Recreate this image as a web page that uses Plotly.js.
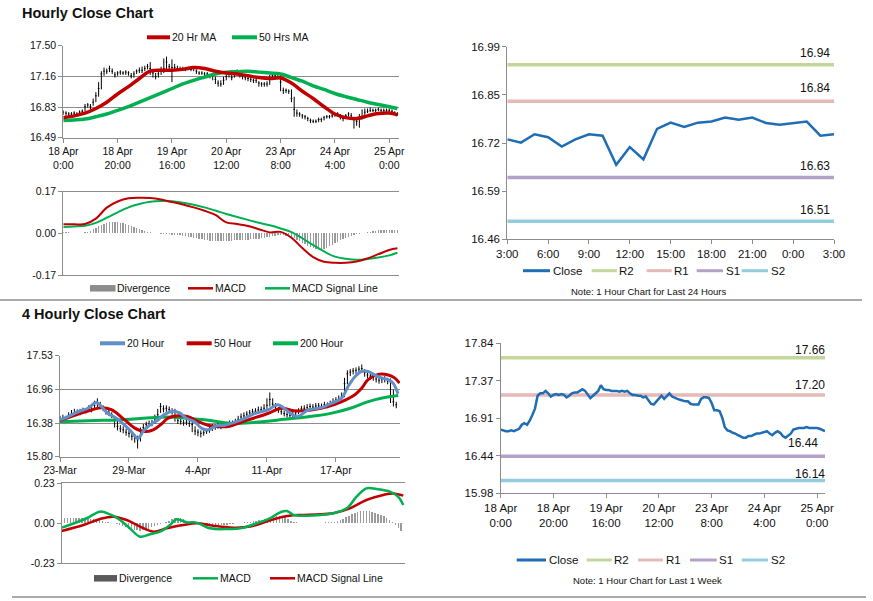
<!DOCTYPE html>
<html><head><meta charset="utf-8">
<script src="https://cdn.plot.ly/plotly-3.0.1.min.js"></script>
<style>html,body{margin:0;padding:0;background:#fff}#chart{width:873px;height:601px}</style>
</head><body><div id="chart"></div>
<script>
// ================= DATA =================
// --- Hourly chart (last week, 1-hour bars), index 0 = 18 Apr 0:00 ---
const hourlyClose = [16.77,16.76,16.75,16.75,16.76,16.75,16.77,16.78,16.83,16.85,
16.83,16.88,16.95,17.03,17.19,17.22,17.22,17.25,17.22,17.18,
17.20,17.21,17.20,17.21,17.20,17.17,17.19,17.22,17.23,17.23,
17.25,17.27,17.25,17.20,17.16,17.19,17.22,17.25,17.32,17.27,
17.26,17.26,17.25,17.25,17.25,17.24,17.25,17.24,17.25,17.22,
17.20,17.20,17.19,17.19,17.17,17.18,17.13,17.09,17.08,17.12,
17.16,17.19,17.15,17.19,17.22,17.18,17.16,17.15,17.14,17.13,
17.12,17.12,17.09,17.08,17.08,17.08,17.15,17.17,17.17,17.16,
17.10,17.01,17.01,17.00,16.92,16.80,16.76,16.75,16.73,16.72,
16.70,16.68,16.67,16.67,16.69,16.69,16.71,16.72,16.72,16.73,
16.74,16.75,16.72,16.70,16.73,16.75,16.73,16.69,16.67,16.70,
16.72,16.77,16.78,16.79,16.79,16.79,16.80,16.79,16.79,16.79,
16.79,16.78,16.76,16.75];
const hourlyHigh = [16.79,16.78,16.77,16.77,16.78,16.77,16.79,16.80,16.86,16.87,
16.86,16.92,16.99,17.10,17.22,17.26,17.25,17.28,17.25,17.21,
17.22,17.23,17.22,17.23,17.22,17.20,17.22,17.24,17.26,17.27,
17.28,17.30,17.32,17.23,17.20,17.22,17.27,17.36,17.38,17.30,
17.35,17.30,17.28,17.27,17.27,17.26,17.27,17.26,17.27,17.24,
17.22,17.22,17.21,17.21,17.19,17.20,17.16,17.12,17.12,17.16,
17.19,17.22,17.19,17.22,17.24,17.21,17.18,17.17,17.16,17.15,
17.14,17.14,17.11,17.10,17.10,17.11,17.18,17.20,17.19,17.18,
17.18,17.04,17.03,17.02,17.02,16.94,16.80,16.77,16.75,16.74,
16.72,16.70,16.69,16.69,16.71,16.71,16.73,16.74,16.74,16.75,
16.76,16.77,16.75,16.73,16.75,16.77,16.76,16.72,16.70,16.75,
16.80,16.81,16.81,16.82,16.81,16.81,16.82,16.81,16.81,16.81,
16.81,16.80,16.78,16.77];
const hourlyLow = [16.74,16.73,16.73,16.73,16.73,16.73,16.74,16.76,16.78,16.82,
16.80,16.84,16.88,16.94,17.02,17.17,17.19,17.21,17.19,17.15,
17.17,17.18,17.18,17.18,17.17,17.14,17.15,17.19,17.20,17.20,
17.22,17.24,17.18,17.15,17.13,17.15,17.18,17.20,17.24,17.22,
17.10,17.23,17.23,17.23,17.23,17.22,17.23,17.22,17.22,17.19,
17.18,17.18,17.17,17.16,17.14,17.12,17.08,17.05,17.05,17.07,
17.12,17.15,17.12,17.15,17.18,17.15,17.13,17.12,17.11,17.10,
17.09,17.09,17.05,17.05,17.05,17.05,17.07,17.14,17.14,17.13,
17.00,16.97,16.98,16.97,16.88,16.72,16.72,16.72,16.70,16.69,
16.67,16.65,16.65,16.65,16.66,16.66,16.68,16.70,16.70,16.71,
16.72,16.72,16.69,16.67,16.70,16.72,16.70,16.59,16.62,16.60,
16.69,16.74,16.76,16.77,16.77,16.77,16.78,16.77,16.77,16.77,
16.77,16.76,16.74,16.73];
const hourlyMaX = [0,4,8,12,16,20,24,28,32,36,40,44,48,52,56,60,64,68,72,76,80,84,88,92,96,100,104,108,112,116,120,123];
const hourlyMa20 = [16.71,16.73,16.76,16.81,16.88,16.97,17.05,17.14,17.22,17.23,17.23,17.24,17.26,17.25,17.22,17.20,17.19,17.17,17.15,17.14,17.145,17.09,17.00,16.92,16.83,16.75,16.71,16.70,16.73,16.755,16.76,16.74];
const hourlyMa50 = [16.68,16.685,16.695,16.72,16.75,16.79,16.83,16.88,16.93,16.98,17.03,17.08,17.12,17.155,17.19,17.21,17.215,17.22,17.21,17.20,17.19,17.15,17.11,17.06,17.02,16.975,16.94,16.91,16.88,16.855,16.83,16.81];
const hourlyMacd = [0.037,0.037,0.038,0.06,0.105,0.13,0.143,0.145,0.144,0.138,0.128,0.118,0.106,0.092,0.075,0.045,0.038,0.03,0.017,0.004,0.006,-0.018,-0.06,-0.097,-0.116,-0.12,-0.12,-0.115,-0.102,-0.085,-0.068,-0.061];
const hourlySignal = [0.026,0.028,0.031,0.043,0.064,0.086,0.106,0.12,0.129,0.132,0.131,0.125,0.117,0.106,0.093,0.079,0.067,0.055,0.043,0.033,0.02,0.005,-0.02,-0.048,-0.074,-0.095,-0.104,-0.108,-0.105,-0.099,-0.09,-0.079];
const hourlyDivergence = [0.005,0.005,0.004,0.003,0.002,0.001,0.001,0.002,0.004,0.006,0.01,
0.016,0.022,0.028,0.034,0.039,0.043,0.046,0.047,
0.047,0.046,0.044,0.041,0.037,0.033,0.029,
0.025,0.021,0.017,0.013,0.01,0.007,0.004,0.002,
0.001,0.0,-0.001,-0.002,-0.003,
-0.004,-0.005,-0.006,-0.007,-0.008,-0.01,-0.012,-0.014,-0.016,-0.018,-0.02,-0.022,
-0.024,-0.026,-0.028,-0.03,-0.031,-0.032,-0.033,-0.033,-0.033,-0.032,-0.031,-0.03,
-0.029,-0.028,-0.028,-0.027,-0.027,-0.026,-0.025,-0.024,-0.023,-0.022,-0.02,-0.018,-0.016,
-0.014,-0.012,-0.01,-0.008,-0.007,-0.008,-0.01,-0.012,-0.015,
-0.02,-0.026,-0.032,-0.038,-0.044,-0.05,-0.055,-0.059,-0.062,-0.064,
-0.064,-0.062,-0.058,-0.053,-0.047,-0.041,-0.035,-0.029,-0.023,-0.018,-0.013,-0.009,-0.006,-0.003,-0.001,
0.001,0.003,0.005,0.007,0.009,0.011,0.012,0.013,0.013,0.013,0.013,0.013,0.013,0.013];
const hourlyTickPos = [0,20,40,60,80,100,120];
const hourlyTickText = ['18 Apr<br>0:00','18 Apr<br>20:00','19 Apr<br>16:00','20 Apr<br>12:00','23 Apr<br>8:00','24 Apr<br>4:00','25 Apr<br>0:00'];
const hourlyYTicks = [16.49,16.8267,17.1633,17.50];
const hourlyYText = ['16.49','16.83','17.16','17.50'];
const macdYTicks = [-0.17,0,0.17];
const macdYText = ['-0.17','0.00','0.17'];

// --- Last 24 hours (1-hour), index 0 = 3:00 ---
const dayClose = [16.735,16.726,16.749,16.741,16.715,16.735,16.749,16.745,16.665,16.714,16.680,16.764,16.781,16.769,16.781,16.784,16.795,16.789,16.795,16.780,16.775,16.780,16.784,16.745,16.749];
const dayTickPos = [0,3,6,9,12,15,18,21,24];
const dayTickText = ['3:00','6:00','9:00','12:00','15:00','18:00','21:00','0:00','3:00'];
const dayYTicks = [16.46,16.5925,16.725,16.8575,16.99];
const dayYText = ['16.46','16.59','16.72','16.85','16.99'];
const levelNames = ['R2','R1','S1','S2'];
const dayLevels = [16.94,16.84,16.63,16.51];
const weekLevels = [17.66,17.20,16.44,16.14];
const weekYTicks = [15.98,16.445,16.91,17.375,17.84];
const weekYText = ['15.98','16.44','16.91','17.37','17.84'];

// --- 4 Hourly chart, index 0 = 23 Mar ---
const fourClose = [16.45,16.47,16.46,16.51,16.53,16.55,16.57,16.56,16.60,16.58,
16.63,16.61,16.68,16.72,16.69,16.63,16.57,16.55,16.52,16.45,
16.32,16.28,16.26,16.22,16.20,16.15,16.12,16.09,16.23,16.30,
16.35,16.36,16.37,16.45,16.52,16.66,16.62,16.63,16.61,16.58,
16.57,16.42,16.40,16.38,16.39,16.37,16.35,16.24,16.22,16.20,
16.21,16.24,16.26,16.29,16.31,16.33,16.32,16.34,16.35,16.36,
16.37,16.40,16.44,16.48,16.50,16.53,16.55,16.57,16.58,16.60,
16.61,16.63,16.68,16.78,16.70,16.66,16.60,16.57,16.54,16.52,
16.51,16.52,16.55,16.58,16.62,16.63,16.64,16.66,16.65,16.67,
16.67,16.66,16.69,16.68,16.70,16.74,16.77,16.79,16.83,17.05,
17.22,17.25,17.27,17.28,17.30,17.31,17.24,17.20,17.18,17.16,
17.13,17.11,17.12,17.13,17.10,17.08,16.74,16.69];
const fourHigh = [16.50,16.52,16.50,16.56,16.60,16.62,16.61,16.62,16.64,16.63,
16.68,16.66,16.76,16.80,16.74,16.68,16.62,16.60,16.56,16.50,
16.42,16.34,16.32,16.28,16.26,16.21,16.18,16.16,16.30,16.36,
16.40,16.42,16.43,16.52,16.62,16.72,16.68,16.68,16.66,16.63,
16.62,16.50,16.45,16.43,16.44,16.42,16.40,16.32,16.27,16.25,
16.26,16.28,16.31,16.36,16.36,16.38,16.37,16.40,16.40,16.42,
16.42,16.45,16.50,16.54,16.56,16.58,16.60,16.62,16.63,16.66,
16.66,16.70,16.80,16.90,16.80,16.72,16.65,16.62,16.59,16.57,
16.56,16.57,16.60,16.63,16.67,16.68,16.70,16.71,16.70,16.72,
16.72,16.71,16.74,16.73,16.76,16.80,16.82,16.85,16.90,17.15,
17.28,17.30,17.32,17.33,17.35,17.38,17.30,17.26,17.23,17.22,
17.19,17.16,17.17,17.18,17.15,17.14,16.95,16.74];
const fourLow = [16.41,16.43,16.42,16.46,16.48,16.50,16.52,16.51,16.55,16.54,
16.58,16.56,16.62,16.65,16.62,16.58,16.52,16.50,16.46,16.30,
16.25,16.22,16.20,16.16,16.13,16.08,16.04,15.94,16.06,16.24,
16.30,16.31,16.32,16.36,16.44,16.55,16.56,16.57,16.55,16.52,
16.40,16.36,16.35,16.33,16.34,16.31,16.22,16.17,16.15,16.13,
16.16,16.19,16.21,16.24,16.26,16.28,16.27,16.29,16.30,16.31,
16.32,16.35,16.39,16.43,16.45,16.48,16.50,16.52,16.53,16.55,
16.56,16.58,16.62,16.66,16.64,16.60,16.55,16.52,16.49,16.47,
16.46,16.47,16.50,16.53,16.57,16.58,16.59,16.61,16.60,16.62,
16.62,16.61,16.64,16.63,16.65,16.69,16.72,16.74,16.78,16.82,
17.04,17.18,17.21,17.22,17.24,17.25,17.17,17.14,17.12,17.10,
17.07,17.05,17.06,17.07,17.04,16.72,16.66,16.63];
const four20X = [0,2.8,6.3,9.7,12.6,14.4,16.7,19.6,22.5,24.8,27.1,28.9,31.2,34.1,36.4,39.3,41.6,43.9,46.8,49.2,51.5,54.4,57.3,63.1,67.7,72.3,75.8,78.7,81.6,83.3,86.3,90.9,94.4,97.9,100.2,102.6,104.9,107.2,109.5,111.8,114.2,115.9,117.6];
const four20 = [16.43,16.485,16.57,16.63,16.73,16.66,16.54,16.46,16.34,16.23,16.115,16.23,16.34,16.43,16.525,16.58,16.55,16.46,16.40,16.29,16.26,16.33,16.34,16.43,16.54,16.60,16.69,16.60,16.50,16.50,16.60,16.64,16.715,16.80,17.0,17.17,17.26,17.26,17.20,17.15,17.12,17.06,16.88];
const four50X = [0,5.1,10.9,14.4,17.9,22.5,26.0,29.5,32.4,35.3,37.6,41.1,44.6,48.1,51.5,56.1,58.4,65.4,72.3,77.0,81.6,87.4,93.2,97.9,102.6,104.9,107.2,110.7,114.2,116.4,118.1];
const four50 = [16.42,16.51,16.60,16.64,16.605,16.43,16.29,16.23,16.26,16.36,16.46,16.50,16.485,16.40,16.34,16.315,16.315,16.43,16.54,16.63,16.585,16.60,16.66,16.74,16.86,16.97,17.12,17.21,17.20,17.15,17.06];
const four200X = [0,12,20,37,44,51,60,68,78,89,95,101,107,112.5,117.7];
const four200 = [16.40,16.42,16.43,16.48,16.46,16.43,16.37,16.39,16.44,16.50,16.55,16.63,16.74,16.81,16.85];
const fourMacdX = [0,5.2,8.6,13.2,16.7,20.1,23.5,27.0,30.4,33.9,37.3,39.6,43.1,46.5,51.1,56.9,62.6,67.2,71.8,75.3,77.6,79.9,84.5,89.1,93.6,98.2,101.6,105.0,108.5,113.1,115.9,117.7];
const fourMacd = [-0.025,0.006,0.029,0.067,0.051,0.019,-0.029,-0.077,-0.063,-0.048,-0.01,0.023,0.006,0.004,-0.029,-0.033,-0.025,0,0.029,0.063,0.071,0.048,0.044,0.048,0.058,0.086,0.153,0.201,0.197,0.182,0.153,0.105];
const fourSignalX = [0,7.5,13.2,17.8,22.4,27,31.6,36.2,41.9,46.5,52.2,59.1,64.9,70.6,76.3,82.1,87.8,93.6,99.3,105,110.8,114.2,117.7];
const fourSignal = [-0.044,-0.01,0.025,0.038,0.019,-0.019,-0.048,-0.029,-0.01,0,-0.014,-0.025,-0.019,0.01,0.038,0.048,0.051,0.058,0.086,0.134,0.163,0.172,0.159];
const fourDivergence = [0.028,0.03,0.032,0.033,0.033,0.032,0.031,0.03,0.028,
0.026,0.025,0.024,0.022,0.018,0.014,
0.01,0.006,0.003,0.0,
-0.006,-0.012,-0.018,-0.024,-0.03,-0.035,-0.039,-0.041,-0.042,-0.04,-0.036,-0.03,-0.024,
-0.017,-0.01,-0.004,0.002,0.008,
0.015,0.022,0.028,0.031,0.03,0.024,0.015,
0.008,0.004,0.002,0.0,-0.002,-0.004,-0.006,-0.008,-0.009,
-0.01,-0.01,-0.009,-0.008,-0.007,-0.005,-0.003,-0.001,
0.002,0.004,0.006,0.008,0.01,0.012,0.014,0.017,0.021,0.026,
0.031,0.036,0.04,0.043,0.044,0.042,0.036,0.026,0.016,0.008,
0.005,0.004,0.003,0.003,0.003,0.003,0.003,0.004,0.004,0.004,0.005,0.005,0.006,0.008,0.012,0.018,
0.026,0.035,0.044,0.052,0.059,0.065,0.069,0.071,0.071,0.069,0.066,0.062,
0.056,0.049,0.04,0.03,0.018,0.006,-0.008,-0.025,-0.045];
const fourTickPos = [0,24,48,72,96];
const fourTickText = ['23-Mar','29-Mar','4-Apr','11-Apr','17-Apr'];
const fourYTicks = [15.80,16.3767,16.9533,17.53];
const fourYText = ['15.80','16.38','16.96','17.53'];
const fourMacdYTicks = [-0.23,0,0.23];
const fourMacdYText = ['-0.23','0.00','0.23'];

// ================= STYLE / LAYOUT =================
const W = 873, H = 601;
const px = x => x / W, py = y => 1 - y / H;
const F = 'Liberation Sans, Arial, Helvetica, sans-serif';
const GRID = '#8c8c8c', AX = '#8c8c8c';
const RED = '#c00000', GREEN = '#00b050', BLUE4 = '#628fc8', CLOSE = '#1f6db4';
const levelColors = ['#c3d69b','#e6b9b8','#b3a2c7','#93cddd'];
const idx = a => a.map((_, i) => i);

const hx = idx(hourlyClose), fx = idx(fourClose), dx = idx(dayClose);

const traces = [];
// Panel A: hourly OHLC + MAs
traces.push({type:'ohlc', x:hx, open:hourlyClose, high:hourlyHigh, low:hourlyLow, close:hourlyClose,
  xaxis:'x', yaxis:'y', increasing:{line:{color:'#000',width:1}}, decreasing:{line:{color:'#000',width:1}}, tickwidth:0.3, hoverinfo:'skip'});
traces.push({type:'scatter', mode:'lines', x:hourlyMaX, y:hourlyMa50, xaxis:'x', yaxis:'y', line:{color:GREEN,width:3.5,shape:'spline'}});
traces.push({type:'scatter', mode:'lines', x:hourlyMaX, y:hourlyMa20, xaxis:'x', yaxis:'y', line:{color:RED,width:3.5,shape:'spline'}});
// Panel B: hourly MACD
traces.push({type:'bar', x:hx, y:hourlyDivergence, xaxis:'x2', yaxis:'y2', width:0.5, marker:{color:'#9a9a9a',line:{width:0}}});
traces.push({type:'scatter', mode:'lines', x:hourlyMaX, y:hourlySignal, xaxis:'x2', yaxis:'y2', line:{color:GREEN,width:2,shape:'spline'}});
traces.push({type:'scatter', mode:'lines', x:hourlyMaX, y:hourlyMacd, xaxis:'x2', yaxis:'y2', line:{color:RED,width:2,shape:'spline'}});
// Panel C: last 24h with levels
levelNames.forEach((n, k) => traces.push({type:'scatter', mode:'lines', name:n, x:[dx[0], dx[dx.length-1]], y:[dayLevels[k], dayLevels[k]], xaxis:'x3', yaxis:'y3', line:{color:levelColors[k], width:3.5}}));
traces.push({type:'scatter', mode:'lines', x:dx, y:dayClose, xaxis:'x3', yaxis:'y3', line:{color:CLOSE,width:2.5}});
// Panel D: 4-hourly
traces.push({type:'ohlc', x:fx, open:fourClose, high:fourHigh, low:fourLow, close:fourClose,
  xaxis:'x4', yaxis:'y4', increasing:{line:{color:'#000',width:1}}, decreasing:{line:{color:'#000',width:1}}, tickwidth:0.3, hoverinfo:'skip'});
traces.push({type:'scatter', mode:'lines', x:four200X, y:four200, xaxis:'x4', yaxis:'y4', line:{color:GREEN,width:3,shape:'spline'}});
traces.push({type:'scatter', mode:'lines', x:four50X, y:four50, xaxis:'x4', yaxis:'y4', line:{color:RED,width:3,shape:'spline'}});
traces.push({type:'scatter', mode:'lines', x:four20X, y:four20, xaxis:'x4', yaxis:'y4', line:{color:BLUE4,width:3,shape:'spline'}});
// Panel E: 4-hourly MACD
traces.push({type:'bar', x:fx, y:fourDivergence, xaxis:'x5', yaxis:'y5', width:0.5, marker:{color:'#9a9a9a',line:{width:0}}});
traces.push({type:'scatter', mode:'lines', x:fourSignalX, y:fourSignal, xaxis:'x5', yaxis:'y5', line:{color:RED,width:2.5,shape:'spline'}});
traces.push({type:'scatter', mode:'lines', x:fourMacdX, y:fourMacd, xaxis:'x5', yaxis:'y5', line:{color:GREEN,width:2.5,shape:'spline'}});
// Panel F: last week close with levels
levelNames.forEach((n, k) => traces.push({type:'scatter', mode:'lines', name:n, x:[hx[0], hx[hx.length-1]], y:[weekLevels[k], weekLevels[k]], xaxis:'x6', yaxis:'y6', line:{color:levelColors[k], width:3.5}}));
traces.push({type:'scatter', mode:'lines', x:hx, y:hourlyClose, xaxis:'x6', yaxis:'y6', line:{color:CLOSE,width:2.5}});

function xa(d0, d1, range, anchor, extra) {
  return Object.assign({domain:[px(d0), px(d1)], range:range, autorange:false, anchor:anchor,
    showline:true, linecolor:AX, linewidth:1, showgrid:false, zeroline:false, fixedrange:true,
    ticks:'', showticklabels:false, tickfont:{family:F, size:10.5, color:'#111'}}, extra || {});
}
function ya(top, bottom, range, anchor, tv, tt, grid, fs) {
  return {domain:[py(bottom), py(top)], range:range, autorange:false, anchor:anchor,
    showline:true, linecolor:AX, linewidth:1, showgrid:grid, gridcolor:GRID, gridwidth:1, zeroline:false, fixedrange:true,
    tickmode:'array', tickvals:tv, ticktext:tt, ticks:'outside', ticklen:4, tickcolor:AX,
    tickfont:{family:F, size:fs, color:'#111'}};
}
const xTickOpts = (tv, tt, fs) => ({tickmode:'array', tickvals:tv, ticktext:tt, ticks:'outside', ticklen:4, tickcolor:AX, showticklabels:true, tickfont:{family:F, size:fs, color:'#111'}});

const layout = {
  width:W, height:H, margin:{l:0,r:0,t:0,b:0}, paper_bgcolor:'#fff', plot_bgcolor:'#fff',
  showlegend:false, bargap:0, font:{family:F, color:'#111'},
  xaxis:  xa(63.3, 399.3, [0, 123.7], 'y',  Object.assign({rangeslider:{visible:false}}, xTickOpts(hourlyTickPos, hourlyTickText, 10.5))),
  yaxis:  ya(45.7, 137.7, [16.49, 17.50], 'x', hourlyYTicks, hourlyYText, true, 10.5),
  xaxis2: xa(63.3, 399.3, [0, 123.7], 'y2', {mirror:true}),
  yaxis2: ya(191.7, 275, [-0.17, 0.17], 'x2', macdYTicks, macdYText, false, 10.5),
  xaxis3: xa(507.3, 834, [0, 24], 'y3', xTickOpts(dayTickPos, dayTickText, 11.5)),
  yaxis3: ya(46.7, 239.3, [16.46, 16.99], 'x3', dayYTicks, dayYText, false, 11.5),
  xaxis4: xa(60, 400, [0, 118.3], 'y4', Object.assign({rangeslider:{visible:false}}, xTickOpts(fourTickPos, fourTickText, 10.5))),
  yaxis4: ya(355.7, 456.7, [15.80, 17.53], 'x4', fourYTicks, fourYText, true, 10.5),
  xaxis5: xa(61.7, 405, [0, 118.3], 'y5', {mirror:true}),
  yaxis5: ya(483.3, 563.3, [-0.23, 0.23], 'x5', fourMacdYTicks, fourMacdYText, false, 10.5),
  xaxis6: xa(500.7, 825, [0, 123], 'y6', xTickOpts(hourlyTickPos, hourlyTickText, 11.5)),
  yaxis6: ya(343.3, 493.3, [15.98, 17.84], 'x6', weekYTicks, weekYText, false, 11.5),
  shapes: [], annotations: []
};

const S = layout.shapes, A = layout.annotations;
const legLine = (x0, x1, y, color, w) => S.push({type:'line', xref:'paper', yref:'paper', x0:px(x0), x1:px(x1), y0:py(y), y1:py(y), line:{color:color, width:w}});
const legBox = (x0, x1, y, h, color) => S.push({type:'rect', xref:'paper', yref:'paper', x0:px(x0), x1:px(x1), y0:py(y + h/2), y1:py(y - h/2), line:{width:0}, fillcolor:color});
const text = (x, y, t, size, anchor) => A.push({xref:'paper', yref:'paper', x:px(x), y:py(y), xanchor:anchor || 'left', yanchor:'middle', text:t, showarrow:false, font:{family:F, size:size, color:'#111'}});

// separators
S.push({type:'line', xref:'paper', yref:'paper', x0:0, x1:px(862), y0:py(300), y1:py(300), line:{color:'#8c8c8c', width:1.5}});
S.push({type:'line', xref:'paper', yref:'paper', x0:px(12), x1:px(866), y0:py(597), y1:py(597), line:{color:'#8c8c8c', width:1.5}});

// titles
text(20, 13.5, '<b>Hourly Close Chart</b>', 14.5);
text(20, 313.5, '<b>4 Hourly Close Chart</b>', 14.5);

// Panel A legend
legLine(147, 170, 37.3, RED, 4); text(170, 37.3, '20 Hr MA', 10.5);
legLine(232, 257, 37.3, GREEN, 4); text(257, 37.3, '50 Hrs MA', 10.5);
// Panel B legend
legBox(90, 115.5, 288.3, 6.5, '#8c8c8c'); text(115, 288.3, 'Divergence', 10.5);
legLine(188, 213, 288.3, RED, 2.5); text(213, 288.3, 'MACD', 10.5);
legLine(265, 290, 288.3, GREEN, 2.5); text(290, 288.3, 'MACD Signal Line', 10.5);
// Panel C legend
const legC = [[523, 550, 551], [591.7, 616.7, 617], [646.7, 671.7, 672], [696.7, 723, 723.5], [741.7, 768, 768.5]];
['Close'].concat(levelNames).forEach((n, k) => {
  legLine(legC[k][0], legC[k][1], 270.7, k === 0 ? CLOSE : levelColors[k-1], 3);
  text(legC[k][2], 270.7, n, 11.5);
});
text(648, 291.7, 'Note: 1 Hour Chart for Last 24 Hours', 9.5, 'center');
// Panel D legend
legLine(100, 125, 343.3, BLUE4, 4); text(125, 343.3, '20 Hour', 10.5);
legLine(186.7, 211.7, 343.3, RED, 4); text(211.7, 343.3, '50 Hour', 10.5);
legLine(273, 298, 343.3, GREEN, 4); text(298, 343.3, '200 Hour', 10.5);
// Panel E legend
legBox(94, 117, 578.3, 6.5, '#5a5a5a'); text(116.5, 578.3, 'Divergence', 10.5);
legLine(193, 218, 578.3, GREEN, 2.5); text(218, 578.3, 'MACD', 10.5);
legLine(270, 295, 578.3, RED, 2.5); text(295, 578.3, 'MACD Signal Line', 10.5);
// Panel F legend
const legF = [[516.7, 546, 546.5], [586.7, 611.7, 612], [638, 663, 663.5], [690, 716.7, 717], [741.7, 768, 768.5]];
['Close'].concat(levelNames).forEach((n, k) => {
  legLine(legF[k][0], legF[k][1], 560, k === 0 ? CLOSE : levelColors[k-1], 3);
  text(legF[k][2], 560, n, 11.5);
});
text(647.5, 580, 'Note: 1 Hour Chart for Last 1 Week', 9.5, 'center');

// level value labels
const dayShift = [12, 13, 11.5, 11.5];
dayLevels.forEach((v, k) => A.push({xref:'x3', yref:'y3', x:dx[dx.length-1], y:v, xanchor:'right', yanchor:'middle', yshift:dayShift[k], xshift:-2,
  text:v.toFixed(2), showarrow:false, font:{family:F, size:12, color:'#111'}}));
const weekShift = [7.5, 9.5, 13, 6.5], weekXShift = [2, 2, -5, 2];
weekLevels.forEach((v, k) => A.push({xref:'x6', yref:'y6', x:hx[hx.length-1], y:v, xanchor:'right', yanchor:'middle', yshift:weekShift[k], xshift:weekXShift[k],
  text:v.toFixed(2), showarrow:false, font:{family:F, size:12, color:'#111'}}));

Plotly.newPlot('chart', traces, layout, {staticPlot:true, displayModeBar:false});
</script>
</body></html>
